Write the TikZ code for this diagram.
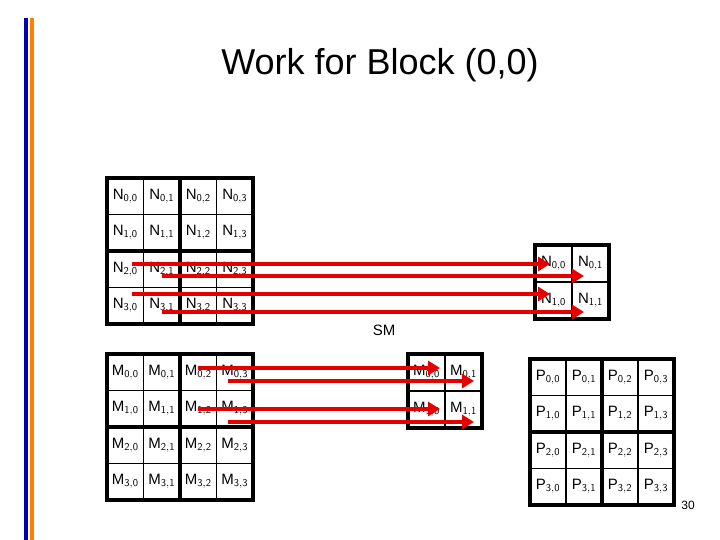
\documentclass[tikz,border=0pt]{standalone}
\usepackage{fontspec}
\setmainfont{Liberation Sans}
\usetikzlibrary{arrows.meta}
\begin{document}
\begin{tikzpicture}[x=1pt,y=-1pt,
  cell/.style={draw=black,line width=0.6pt,minimum width=36.5pt,minimum height=36.5pt,inner sep=0pt,font=\fontsize{15}{15}\selectfont},
  thick box/.style={draw=black,line width=3.5pt},
  flow/.style={draw=red!90!black,line width=4pt,-{Triangle[length=12pt,width=14pt]}}]
\useasboundingbox (0,0) rectangle (720,540);
\fill[blue!70!black] (24,18) rectangle (28,540);
\fill[orange] (30,18) rectangle (34,540);
\node (title) at (380,65) {\fontsize{36}{36}\selectfont Work for Block (0,0)};
% N matrix
\foreach \r in {0,...,3}\foreach \c in {0,...,3}
  \node[cell] (N\r\c) at ({107+18.25+36.5*\c},{178+18.25+36.5*\r}) {N$_{\mathsf{\r,\c}}$};
\draw[thick box] (107,178) rectangle (253,324);
\draw[thick box] (180,178) -- (180,324) (107,251) -- (253,251);
% SM N
\foreach \r in {0,1}\foreach \c in {0,1}
  \node[cell] (S\r\c) at ({535+18.5+37*\c},{245+18.5+37*\r}) {N$_{\mathsf{\r,\c}}$};
\draw[thick box] (535,245) rectangle (609,319);
\node (sm) at (384,330) {\fontsize{15}{15}\selectfont SM};
% M matrix
\foreach \r in {0,...,3}\foreach \c in {0,...,3}
  \node[cell] (M\r\c) at ({107+18.25+36.5*\c},{354+18.25+36.5*\r}) {M$_{\mathsf{\r,\c}}$};
\draw[thick box] (107,354) rectangle (253,500);
\draw[thick box] (180,354) -- (180,500) (107,427) -- (253,427);
% SM M
\foreach \r in {0,1}\foreach \c in {0,1}
  \node[cell] (T\r\c) at ({408+18.5+37*\c},{354+18.5+37*\r}) {M$_{\mathsf{\r,\c}}$};
\draw[thick box] (408,354) rectangle (482,428);
% P matrix
\foreach \r in {0,...,3}\foreach \c in {0,...,3}
  \node[cell] (P\r\c) at ({530+18+36*\c},{359+18.25+36.5*\r}) {P$_{\mathsf{\r,\c}}$};
\draw[thick box] (530,359) rectangle (674,505);
\draw[thick box] (602,359) -- (602,505) (530,432) -- (674,432);
\node (pg) at (688,505) {\fontsize{12}{12}\selectfont 30};
% arrows
\coordinate (a1) at (132,264); \coordinate (b1) at (550,264);
\coordinate (a2) at (162,276); \coordinate (b2) at (584,276);
\coordinate (a3) at (132,294); \coordinate (b3) at (550,294);
\coordinate (a4) at (162,312); \coordinate (b4) at (584,312);
\coordinate (c1) at (198,368); \coordinate (d1) at (440,368);
\coordinate (c2) at (228,381); \coordinate (d2) at (474,381);
\coordinate (c3) at (198,409); \coordinate (d3) at (440,409);
\coordinate (c4) at (228,422); \coordinate (d4) at (474,422);
\foreach \i in {1,...,4}{\draw[flow] (a\i) -- (b\i); \draw[flow] (c\i) -- (d\i);}
\end{tikzpicture}
\end{document}
